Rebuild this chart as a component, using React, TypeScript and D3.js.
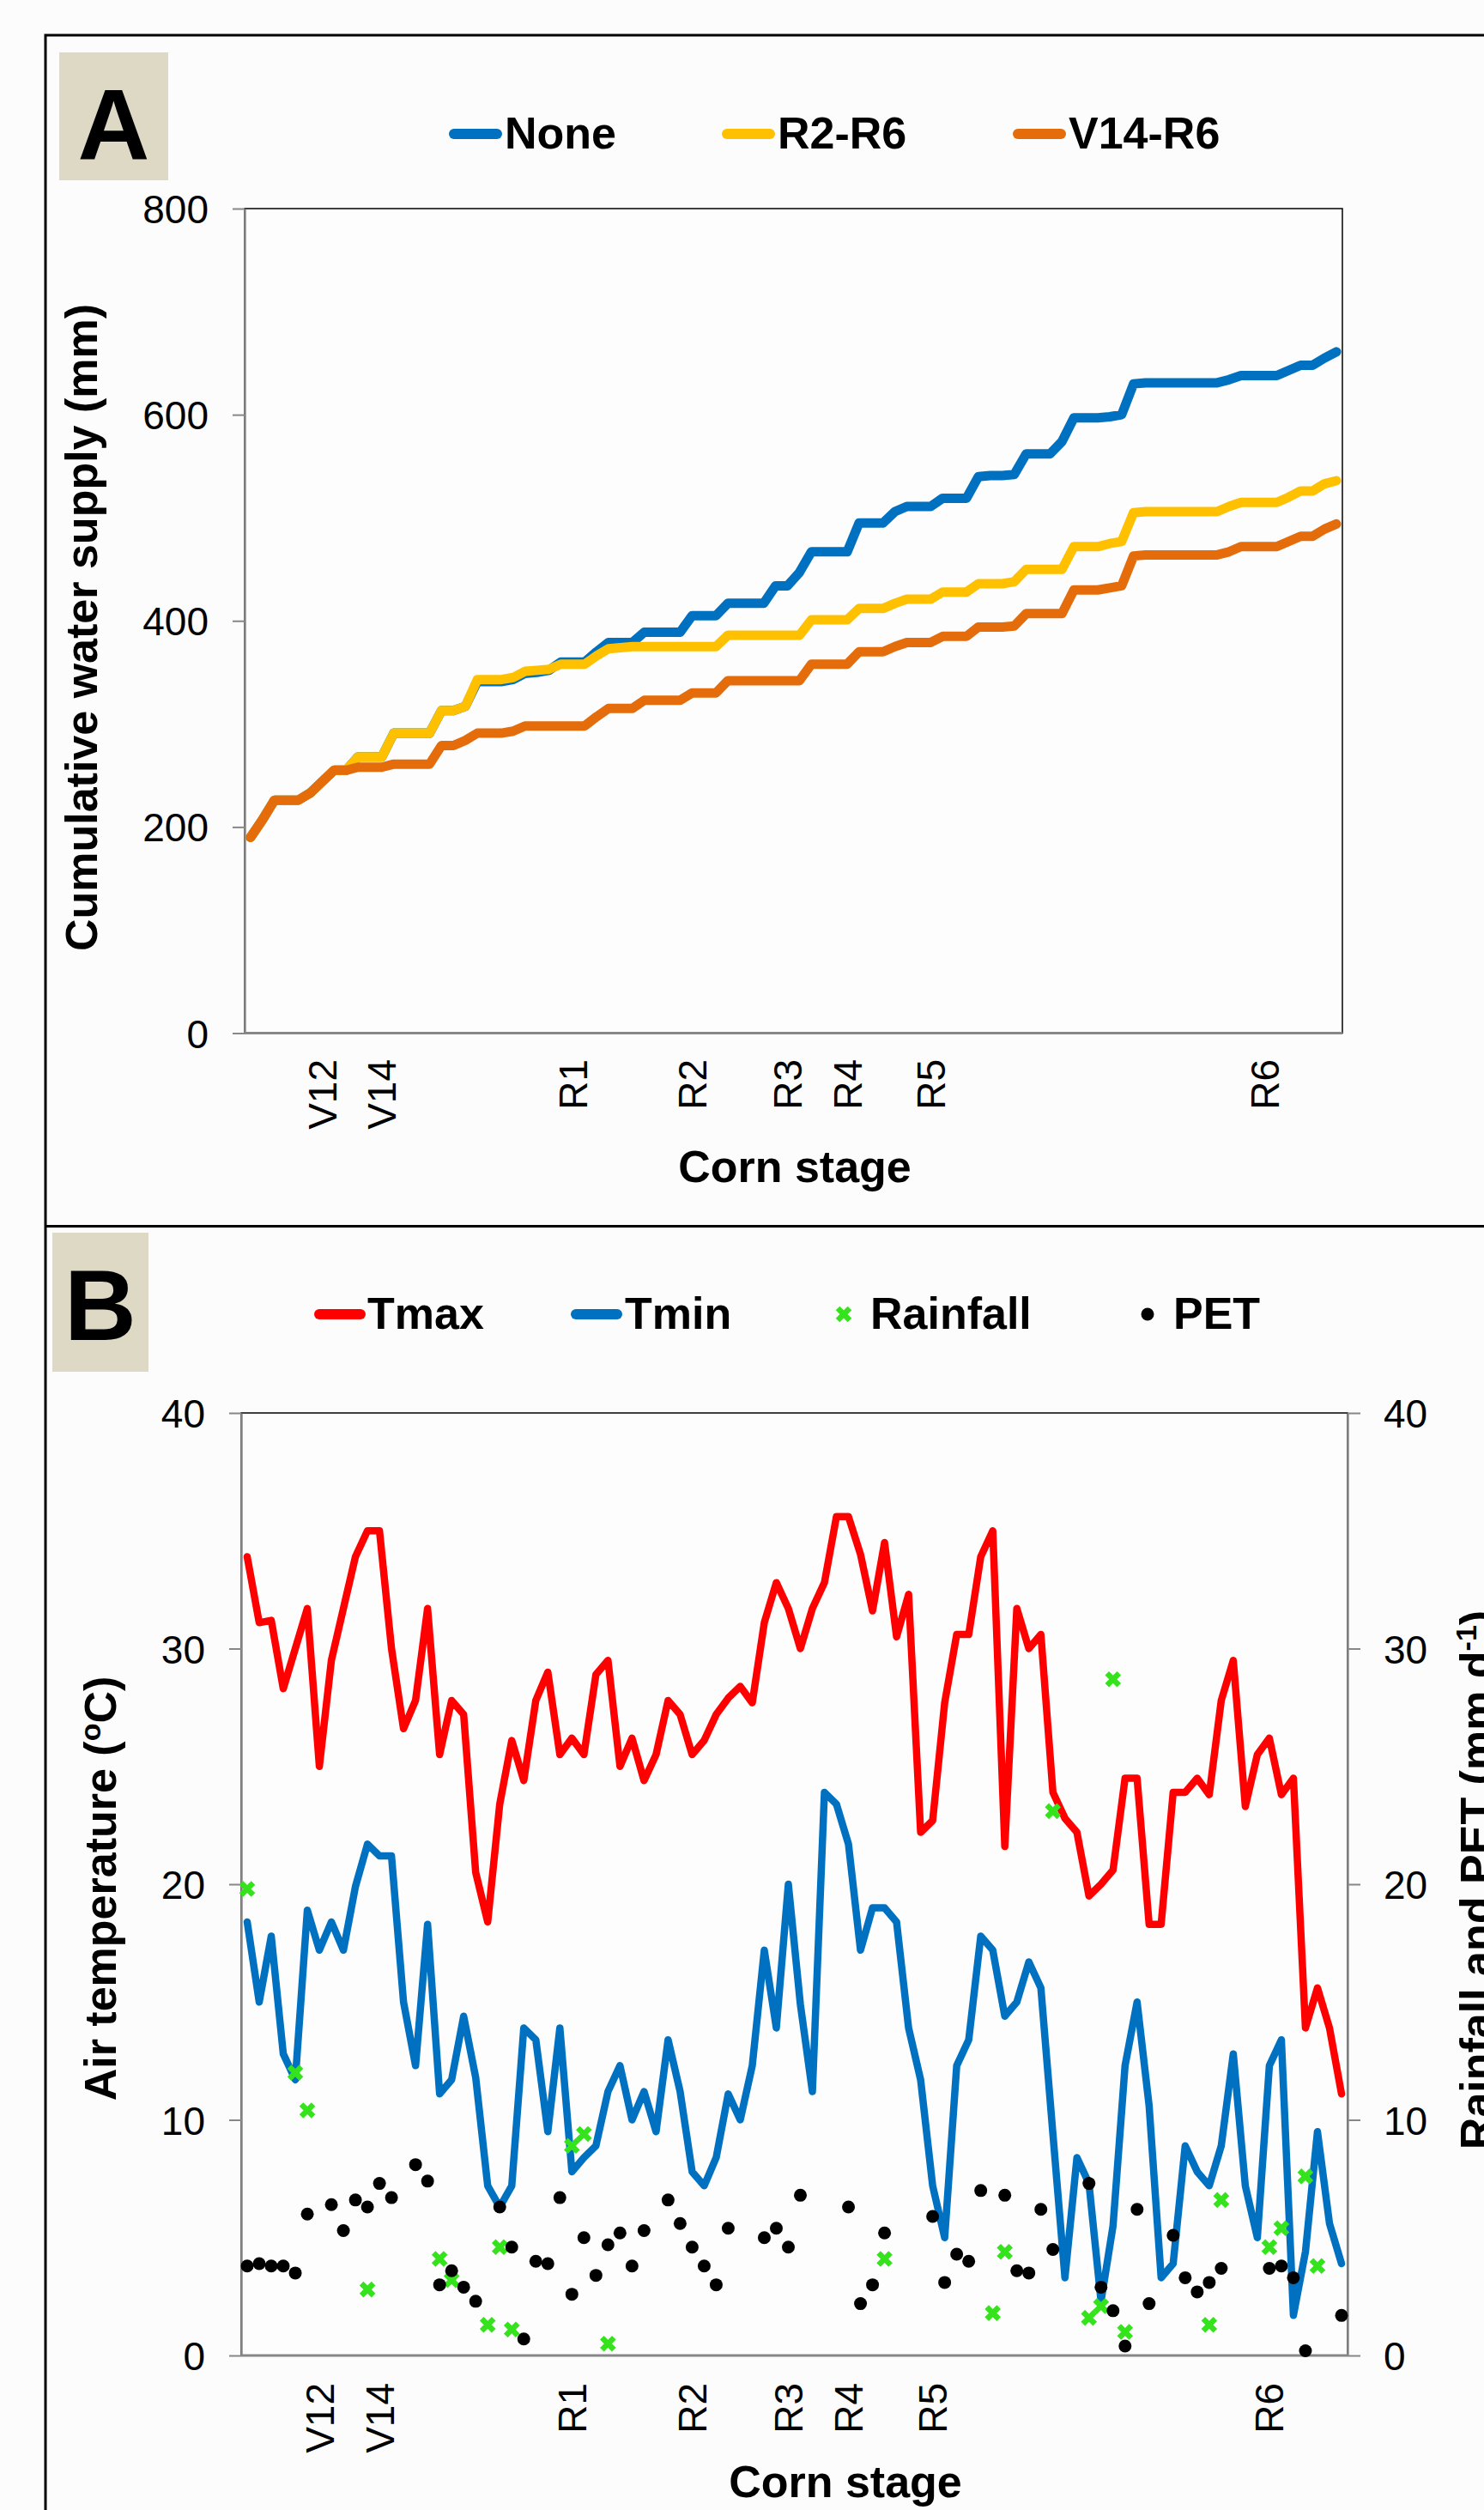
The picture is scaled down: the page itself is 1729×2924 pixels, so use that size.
import { useEffect, useRef } from 'react';
import * as d3 from 'd3';

// corn stages (day index of the season) shown under both panels
const stageLabels = ['V12', 'V14', 'R1', 'R2', 'R3', 'R4', 'R5', 'R6'];
const stageDays = [6, 11, 27, 37, 45, 50, 57, 85];

// panel A : cumulative water supply (mm), one value per day
const supplyNone = [
  190, 207, 226, 226, 226, 233, 244, 255, 255, 268,
  268, 268, 291, 291, 291, 291, 313, 313, 317, 341,
  341, 341, 343, 349, 350, 352, 360, 360, 360, 370,
  379, 379, 379, 389, 389, 389, 389, 405, 405, 405,
  417, 417, 417, 417, 434, 434, 447, 467, 467, 467,
  467, 495, 495, 495, 506, 511, 511, 511, 519, 519,
  519, 540, 541, 541, 542, 562, 562, 562, 574, 597,
  597, 597, 598, 600, 630, 631, 631, 631, 631, 631,
  631, 631, 634, 638, 638, 638, 638, 643, 648, 648,
  655, 661,
];
const supplyR2R6 = [
  190, 207, 226, 226, 226, 233, 244, 255, 255, 268,
  268, 268, 291, 291, 291, 291, 313, 313, 317, 343,
  343, 343, 345, 351, 352, 353, 358, 358, 358, 366,
  373, 374, 375, 375, 375, 375, 375, 375, 375, 375,
  386, 386, 386, 386, 386, 386, 386, 401, 401, 401,
  401, 412, 412, 412, 417, 421, 421, 421, 428, 428,
  428, 436, 436, 436, 438, 450, 450, 450, 450, 472,
  472, 472, 475, 477, 505, 506, 506, 506, 506, 506,
  506, 506, 511, 515, 515, 515, 515, 520, 526, 526,
  533, 536,
];
const supplyV14R6 = [
  190, 207, 226, 226, 226, 233, 244, 255, 255, 258,
  258, 258, 261, 261, 261, 261, 279, 279, 284, 291,
  291, 291, 293, 298, 298, 298, 298, 298, 298, 307,
  315, 315, 315, 323, 323, 323, 323, 330, 330, 330,
  342, 342, 342, 342, 342, 342, 342, 358, 358, 358,
  358, 370, 370, 370, 375, 379, 379, 379, 385, 385,
  385, 394, 394, 394, 395, 407, 407, 407, 407, 430,
  430, 430, 432, 434, 463, 464, 464, 464, 464, 464,
  464, 464, 467, 472, 472, 472, 472, 477, 482, 482,
  489, 494,
];

// panel B : daily weather
const tmax = [
  33.9, 31.1, 31.2, 28.3, 30.0, 31.7, 25.0, 29.5, 31.7, 33.9,
  35.0, 35.0, 30.0, 26.6, 27.8, 31.7, 25.5, 27.8, 27.2, 20.5,
  18.4, 23.4, 26.1, 24.4, 27.8, 29.0, 25.5, 26.2, 25.5, 28.9,
  29.5, 25.0, 26.2, 24.4, 25.5, 27.8, 27.2, 25.5, 26.1, 27.2,
  27.9, 28.4, 27.7, 31.1, 32.8, 31.7, 30.0, 31.7, 32.8, 35.6,
  35.6, 34.0, 31.6, 34.5, 30.5, 32.3, 22.2, 22.7, 27.7, 30.6,
  30.6, 33.9, 35.0, 21.6, 31.7, 30.0, 30.6, 23.9, 22.8, 22.2,
  19.5, 20.0, 20.6, 24.5, 24.5, 18.3, 18.3, 23.9, 23.9, 24.5,
  23.8, 27.8, 29.5, 23.3, 25.5, 26.2, 23.8, 24.5, 13.9, 15.6,
  13.9, 11.1,
];
const tmin = [
  18.4, 15.0, 17.8, 12.8, 11.7, 18.9, 17.2, 18.4, 17.2, 19.9,
  21.7, 21.2, 21.2, 15.0, 12.3, 18.3, 11.1, 11.7, 14.4, 11.8,
  7.2, 6.3, 7.2, 13.9, 13.4, 9.5, 13.9, 7.8, 8.4, 8.9,
  11.2, 12.3, 10.0, 11.2, 9.5, 13.4, 11.2, 7.8, 7.2, 8.4,
  11.1, 10.0, 12.3, 17.2, 13.9, 20.0, 14.9, 11.2, 23.9, 23.4,
  21.7, 17.2, 19.0, 19.0, 18.4, 13.9, 11.7, 7.2, 5.0, 12.3,
  13.4, 17.8, 17.2, 14.4, 15.0, 16.7, 15.6, 9.4, 3.3, 8.4,
  7.3, 2.3, 5.5, 12.3, 15.0, 10.6, 3.3, 3.9, 8.9, 7.8,
  7.2, 8.9, 12.8, 7.2, 5.0, 12.3, 13.4, 1.7, 4.4, 9.5,
  5.6, 3.9,
];
const pet: (number | null)[] = [
  3.8, 3.9, 3.8, 3.8, 3.5, 6.0, null, 6.4, 5.3, 6.6,
  6.3, 7.3, 6.7, null, 8.1, 7.4, 3.0, 3.6, 2.9, 2.3,
  null, 6.3, 4.6, 0.7, 4.0, 3.9, 6.7, 2.6, 5.0, 3.4,
  4.7, 5.2, 3.8, 5.3, null, 6.6, 5.6, 4.6, 3.8, 3.0,
  5.4, null, null, 5.0, 5.4, 4.6, 6.8, null, null, null,
  6.3, 2.2, 3.0, 5.2, null, null, null, 5.9, 3.1, 4.3,
  4.0, 7.0, null, 6.8, 3.6, 3.5, 6.2, 4.5, null, null,
  7.3, 2.9, 1.9, 0.4, 6.2, 2.2, null, 5.1, 3.3, 2.7,
  3.1, 3.7, null, null, null, 3.7, 3.8, 3.3, 0.2, null,
  null, 1.7,
];
const rainDays = [0, 4, 5, 10, 16, 17, 20, 21, 22, 27, 28, 30, 53, 62, 63, 67, 70, 71, 72, 73, 80, 81, 85, 86, 88, 89];
const rainMm = [19.8, 12.0, 10.4, 2.8, 4.1, 3.2, 1.3, 4.6, 1.1, 8.9, 9.4, 0.5, 4.1, 1.8, 4.4, 23.1, 1.6, 2.1, 28.7, 1.0, 1.3, 6.6, 4.6, 5.4, 7.6, 3.8];

const supplyTicks = [0, 200, 400, 600, 800];
const weatherTicks = [0, 10, 20, 30, 40];

const WIDTH = 1729;
const HEIGHT = 2924;
const FONT = '"Liberation Sans", Arial, Helvetica, sans-serif';
const GREY = '#878787';
const BLUE = '#0070C0';
const YELLOW = '#FFC000';
const ORANGE = '#E46C0A';
const RED = '#FF0000';
const GREEN = '#35E31D';

const App = () => {
  const svgRef = useRef<SVGSVGElement>(null);

  useEffect(() => {
    document.body.style.margin = '0';
    const svg = d3.select(svgRef.current);
    svg.selectAll('*').remove();
    svg.attr('width', WIDTH)
      .attr('height', HEIGHT)
      .style('display', 'block')
      .style('background', '#fcfcfc')
      .attr('font-family', FONT);

    // outer frame and the line between the panels
    svg.append('path')
      .attr('d', `M53,${HEIGHT} V41 H${WIDTH} M53,1428.5 H${WIDTH}`)
      .attr('fill', 'none')
      .attr('stroke', '#000')
      .attr('stroke-width', 3);

    // panel letter in its beige box
    const panelLetter = (x: number, y: number, w: number, h: number, label: string, baseline: number) => {
      svg.append('rect').attr('x', x).attr('y', y).attr('width', w).attr('height', h).attr('fill', '#DDD9C4');
      svg.append('text')
        .attr('x', x + w / 2).attr('y', baseline)
        .attr('text-anchor', 'middle')
        .attr('font-size', 116).attr('font-weight', 'bold')
        .text(label);
    };
    panelLetter(69, 61, 127, 149, 'A', 186);
    panelLetter(61, 1436, 112, 162, 'B', 1561);

    // rotated text helper (reads bottom to top)
    const vText = (x: number, y: number, size: number, weight: string, anchor: string) =>
      svg.append('text')
        .attr('transform', `translate(${x},${y}) rotate(-90)`)
        .attr('text-anchor', anchor)
        .attr('font-size', size)
        .attr('font-weight', weight);

    const styleAxis = (g: d3.Selection<SVGGElement, unknown, null, undefined>) => {
      g.attr('font-family', FONT).attr('font-size', 46);
      g.select('.domain').attr('stroke', GREY).attr('stroke-width', 2.5);
      g.selectAll('.tick line').attr('stroke', GREY).attr('stroke-width', 2);
      g.selectAll('.tick text').attr('fill', '#000').attr('dy', '0.36em');
    };

    // ---------------- Panel A ----------------
    const ax = d3.scaleBand<number>().domain(d3.range(supplyNone.length)).range([285, 1564]);
    const acx = (i: number) => (ax(i) as number) + ax.bandwidth() / 2;
    const ay = d3.scaleLinear().domain([0, 800]).range([1203.5, 243]);

    svg.append('rect')
      .attr('x', 285).attr('y', 243).attr('width', 1279).attr('height', 960.5)
      .attr('fill', '#fdfdfd').attr('stroke', '#000').attr('stroke-width', 1.5);

    const aLeft = svg.append('g').attr('transform', 'translate(285,0)')
      .call(d3.axisLeft(ay).tickValues(supplyTicks).tickSize(14).tickPadding(28).tickSizeOuter(0).tickFormat(d3.format('d')));
    styleAxis(aLeft);
    svg.append('line').attr('x1', 285).attr('x2', 1564).attr('y1', 1203.5).attr('y2', 1203.5)
      .attr('stroke', GREY).attr('stroke-width', 3);

    const supplyLine = d3.line<number>().x((_, i) => acx(i)).y(d => ay(d));
    [[supplyNone, BLUE], [supplyR2R6, YELLOW], [supplyV14R6, ORANGE]].forEach(([data, color]) => {
      svg.append('path')
        .attr('d', supplyLine(data as number[]))
        .attr('fill', 'none')
        .attr('stroke', color as string)
        .attr('stroke-width', 11)
        .attr('stroke-linejoin', 'round')
        .attr('stroke-linecap', 'round');
    });

    stageLabels.forEach((s, k) => {
      vText(acx(stageDays[k]) + 16.5, 1234, 46, 'normal', 'end').text(s);
    });
    svg.append('text').attr('x', 926).attr('y', 1377).attr('text-anchor', 'middle')
      .attr('font-size', 52).attr('font-weight', 'bold').text('Corn stage');
    vText(113, 731, 52, 'bold', 'middle').text('Cumulative water supply (mm)');

    // legend A
    const legendA = [
      { name: 'None', color: BLUE, x: 523 },
      { name: 'R2-R6', color: YELLOW, x: 841 },
      { name: 'V14-R6', color: ORANGE, x: 1180 },
    ];
    legendA.forEach(l => {
      svg.append('line').attr('x1', l.x + 6).attr('x2', l.x + 56).attr('y1', 156).attr('y2', 156)
        .attr('stroke', l.color).attr('stroke-width', 12).attr('stroke-linecap', 'round');
      svg.append('text').attr('x', l.x + 65).attr('y', 173).attr('font-size', 52).attr('font-weight', 'bold').text(l.name);
    });

    // ---------------- Panel B ----------------
    const bx = d3.scaleBand<number>().domain(d3.range(tmax.length)).range([281, 1570]);
    const bcx = (i: number) => (bx(i) as number) + bx.bandwidth() / 2;
    const by = d3.scaleLinear().domain([0, 40]).range([2744, 1646]);
    const byRight = d3.scaleLinear().domain([0, 40]).range([2744, 1646]);

    svg.append('rect')
      .attr('x', 281).attr('y', 1646).attr('width', 1289).attr('height', 1098)
      .attr('fill', '#fdfdfd').attr('stroke', '#000').attr('stroke-width', 1.5);

    const bLeft = svg.append('g').attr('transform', 'translate(281,0)')
      .call(d3.axisLeft(by).tickValues(weatherTicks).tickSize(14).tickPadding(28).tickSizeOuter(0));
    styleAxis(bLeft);
    const bRight = svg.append('g').attr('transform', 'translate(1570,0)')
      .call(d3.axisRight(byRight).tickValues(weatherTicks).tickSize(15).tickPadding(27).tickSizeOuter(0));
    styleAxis(bRight);
    svg.append('line').attr('x1', 281).attr('x2', 1570).attr('y1', 2744).attr('y2', 2744)
      .attr('stroke', GREY).attr('stroke-width', 3);

    const tempLine = d3.line<number>().x((_, i) => bcx(i)).y(d => by(d));
    [[tmax, RED], [tmin, BLUE]].forEach(([data, color]) => {
      svg.append('path')
        .attr('d', tempLine(data as number[]))
        .attr('fill', 'none')
        .attr('stroke', color as string)
        .attr('stroke-width', 8.5)
        .attr('stroke-linejoin', 'round')
        .attr('stroke-linecap', 'round');
    });

    const cross = 'M-7,-7L7,7M7,-7L-7,7';
    svg.append('g').selectAll('path')
      .data(rainDays.map((d, k) => ({ day: d, v: rainMm[k] })))
      .enter().append('path')
      .attr('transform', d => `translate(${bcx(d.day)},${byRight(d.v)})`)
      .attr('d', cross)
      .attr('fill', 'none')
      .attr('stroke', GREEN)
      .attr('stroke-width', 6.5);

    svg.append('g').selectAll('circle')
      .data(pet.map((v, i) => ({ v, i })).filter(d => d.v !== null))
      .enter().append('circle')
      .attr('cx', d => bcx(d.i))
      .attr('cy', d => byRight(d.v as number))
      .attr('r', 7.5)
      .attr('fill', '#000');

    stageLabels.forEach((s, k) => {
      vText(bcx(stageDays[k]) + 16.5, 2776, 46, 'normal', 'end').text(s);
    });
    svg.append('text').attr('x', 985).attr('y', 2909).attr('text-anchor', 'middle')
      .attr('font-size', 52).attr('font-weight', 'bold').text('Corn stage');

    const tTitle = vText(135, 2200, 52, 'bold', 'middle');
    tTitle.append('tspan').text('Air temperature (');
    tTitle.append('tspan').attr('font-size', 34).attr('dy', -18).text('o');
    tTitle.append('tspan').attr('dy', 18).text('C)');

    // the right-hand title runs off the page edge, as in the figure
    const rTitle = vText(1738, 2190, 52, 'bold', 'middle');
    rTitle.append('tspan').text('Rainfall and PET (mm d');
    rTitle.append('tspan').attr('font-size', 34).attr('dy', -18).text('-1');
    rTitle.append('tspan').attr('dy', 18).text(')');

    // legend B
    const legendLine = (x: number, color: string) =>
      svg.append('line').attr('x1', x + 6).attr('x2', x + 54).attr('y1', 1531).attr('y2', 1531)
        .attr('stroke', color).attr('stroke-width', 12).attr('stroke-linecap', 'round');
    const legendText = (x: number, s: string) =>
      svg.append('text').attr('x', x).attr('y', 1548).attr('font-size', 52).attr('font-weight', 'bold').text(s);
    legendLine(366, RED);
    legendText(428, 'Tmax');
    legendLine(665, BLUE);
    legendText(728, 'Tmin');
    svg.append('path').attr('transform', 'translate(983,1531)').attr('d', cross)
      .attr('fill', 'none').attr('stroke', GREEN).attr('stroke-width', 6.5);
    legendText(1014, 'Rainfall');
    svg.append('circle').attr('cx', 1337).attr('cy', 1531).attr('r', 7.5).attr('fill', '#000');
    legendText(1367, 'PET');
  }, []);

  return <svg ref={svgRef}></svg>;
};

export default App;
